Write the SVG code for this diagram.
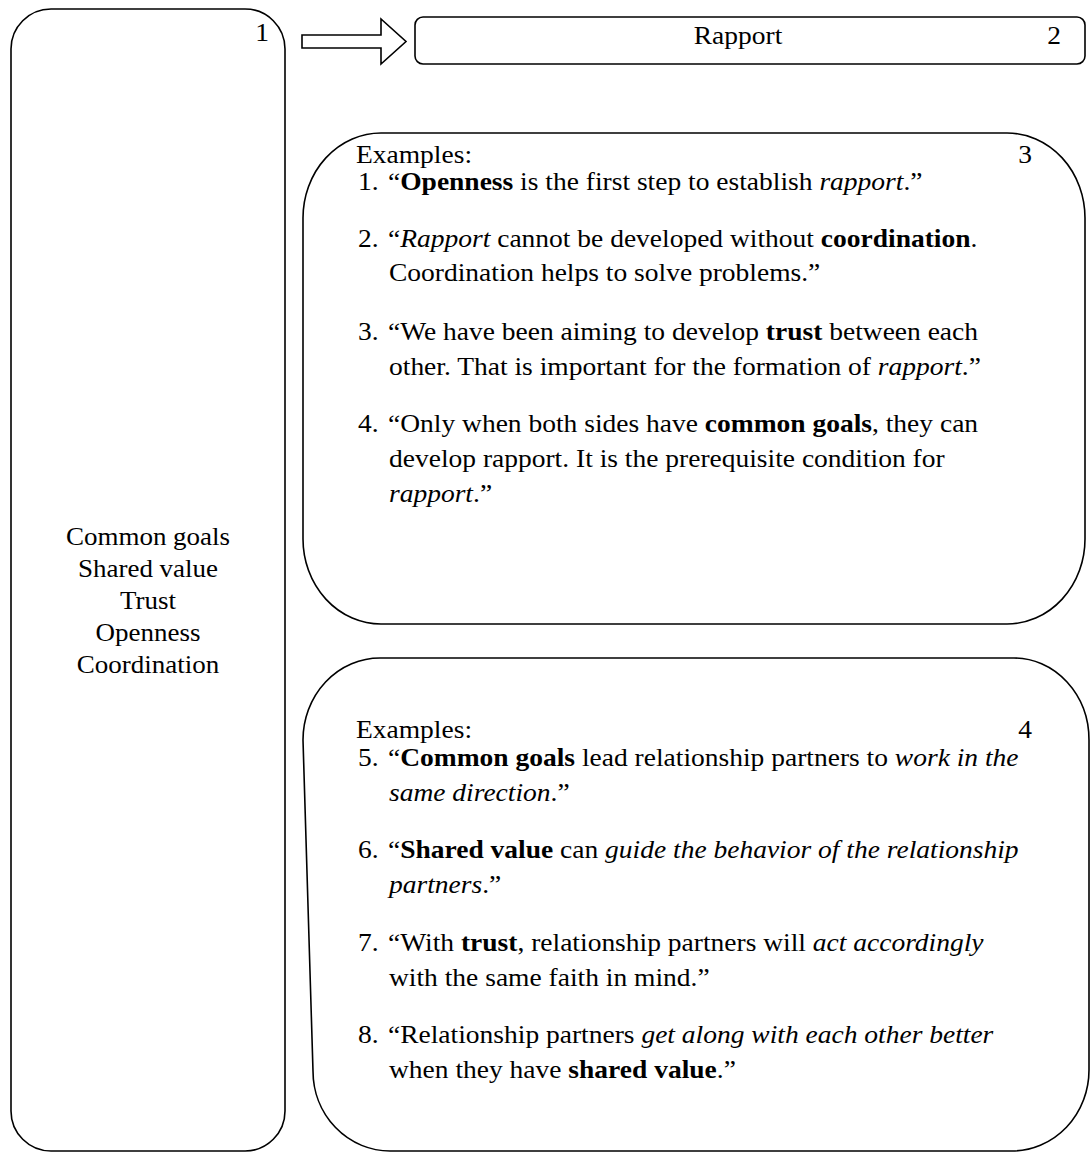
<svg xmlns="http://www.w3.org/2000/svg" width="1090" height="1152" viewBox="0 0 1090 1152">
<style>
.box{fill:#fff;stroke:#000;stroke-width:1.6}
.t{font-family:"Liberation Serif","Times New Roman",serif;font-size:25px;fill:#000}
.c{text-anchor:middle}
.b{font-weight:bold}
.i{font-style:italic}
</style>
<rect width="1090" height="1152" fill="#fff"/>
<g id="node1">
<rect class="box" x="11" y="9" width="274" height="1142" rx="40" ry="40"/>
<text class="t c" transform="translate(262,41) scale(1.1,1)">1</text>
<text class="t c" transform="translate(148,545) scale(1.08,1)">Common goals</text>
<text class="t c" transform="translate(148,577) scale(1.08,1)">Shared value</text>
<text class="t c" transform="translate(148,609) scale(1.08,1)">Trust</text>
<text class="t c" transform="translate(148,641) scale(1.08,1)">Openness</text>
<text class="t c" transform="translate(148,673) scale(1.08,1)">Coordination</text>
</g>
<g id="connectors">
<polygon class="box" points="302,35 381,35 381,19 406,41.5 381,64 381,48 302,48"/>
</g>
<g id="node2">
<rect class="box" x="415" y="17" width="670" height="47" rx="8" ry="8"/>
<text class="t c" transform="translate(738,44) scale(1.1,1)">Rapport</text>
<text class="t c" transform="translate(1054,44) scale(1.1,1)">2</text>
</g>
<g id="node3">
<rect class="box" x="303" y="133" width="782" height="491" rx="78" ry="85"/>
<text class="t" transform="translate(356,163) scale(1.1,1)">Examples:</text>
<text class="t c" transform="translate(1025,163) scale(1.1,1)">3</text>
<text class="t" transform="translate(358,190) scale(1.1,1)">1.</text>
<text class="t" transform="translate(388,190) scale(1.1,1)">“<tspan class="b">Openness</tspan> is the first step to establish <tspan class="i">rapport</tspan>.”</text>
<text class="t" transform="translate(358,247) scale(1.1,1)">2.</text>
<text class="t" transform="translate(388,247) scale(1.1,1)">“<tspan class="i">Rapport</tspan> cannot be developed without <tspan class="b">coordination</tspan>.</text>
<text class="t" transform="translate(389,281) scale(1.1,1)">Coordination helps to solve problems.”</text>
<text class="t" transform="translate(358,340) scale(1.1,1)">3.</text>
<text class="t" transform="translate(388,340) scale(1.1,1)">“We have been aiming to develop <tspan class="b">trust</tspan> between each</text>
<text class="t" transform="translate(389,375) scale(1.1,1)">other. That is important for the formation of <tspan class="i">rapport</tspan>.”</text>
<text class="t" transform="translate(358,432) scale(1.1,1)">4.</text>
<text class="t" transform="translate(388,432) scale(1.1,1)">“Only when both sides have <tspan class="b">common goals</tspan>, they can</text>
<text class="t" transform="translate(389,467) scale(1.1,1)">develop rapport. It is the prerequisite condition for</text>
<text class="t" transform="translate(389,502) scale(1.1,1)"><tspan class="i">rapport</tspan>.”</text>
</g>
<g id="node4">
<path class="box" d="M380,658 H1014 A75 82 0 0 1 1089,740 V1070 A77 81 0 0 1 1012,1151 H390 A77 80 0 0 1 313,1071 L303,740 A77 82 0 0 1 380,658 Z"/>
<text class="t" transform="translate(356,738) scale(1.1,1)">Examples:</text>
<text class="t c" transform="translate(1025,738) scale(1.1,1)">4</text>
<text class="t" transform="translate(358,766) scale(1.1,1)">5.</text>
<text class="t" transform="translate(388,766) scale(1.1,1)">“<tspan class="b">Common goals</tspan> lead relationship partners to <tspan class="i">work in the</tspan></text>
<text class="t" transform="translate(389,801) scale(1.1,1)"><tspan class="i">same direction</tspan>.”</text>
<text class="t" transform="translate(358,858) scale(1.1,1)">6.</text>
<text class="t" transform="translate(388,858) scale(1.1,1)">“<tspan class="b">Shared value</tspan> can <tspan class="i">guide the behavior of the relationship</tspan></text>
<text class="t" transform="translate(389,893) scale(1.1,1)"><tspan class="i">partners</tspan>.”</text>
<text class="t" transform="translate(358,951) scale(1.1,1)">7.</text>
<text class="t" transform="translate(388,951) scale(1.1,1)">“With <tspan class="b">trust</tspan>, relationship partners will <tspan class="i">act accordingly</tspan></text>
<text class="t" transform="translate(389,986) scale(1.1,1)">with the same faith in mind.”</text>
<text class="t" transform="translate(358,1043) scale(1.1,1)">8.</text>
<text class="t" transform="translate(388,1043) scale(1.1,1)">“Relationship partners <tspan class="i">get along with each other better</tspan></text>
<text class="t" transform="translate(389,1078) scale(1.1,1)">when they have <tspan class="b">shared value</tspan>.”</text>
</g>
</svg>
